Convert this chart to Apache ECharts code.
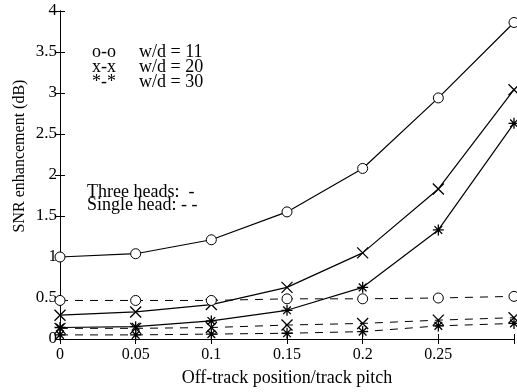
<!DOCTYPE html>
<html>
<head>
<meta charset="utf-8">
<script src="https://cdn.jsdelivr.net/npm/echarts@6/dist/echarts.min.js"></script>
<style>
  html, body { margin: 0; padding: 0; background: #fff; }
  #main { width: 517px; height: 392px; }
</style>
</head>
<body>
<div id="main"></div>
<script>
// 横轴: 偏道位置/道距
var offTrack = [0, 0.05, 0.1, 0.15, 0.2, 0.25, 0.3];
// 三磁头 (实线)
var three11 = [1.0, 1.04, 1.21, 1.55, 2.08, 2.94, 3.86];
var three20 = [0.29, 0.33, 0.42, 0.63, 1.05, 1.83, 3.04];
var three30 = [0.14, 0.15, 0.22, 0.35, 0.63, 1.33, 2.63];
// 单磁头 (虚线)
var single11 = [0.47, 0.47, 0.47, 0.49, 0.49, 0.50, 0.52];
var single20 = [0.13, 0.13, 0.14, 0.17, 0.19, 0.23, 0.26];
var single30 = [0.05, 0.05, 0.06, 0.07, 0.09, 0.16, 0.19];

var FONT = '"Liberation Serif", "DejaVu Serif", serif';
var xMark = 'path://M0,0L10,10M10,0L0,10';
var starMark = 'path://M5,0L5,10M0,5L10,5M1.5,1.5L8.5,8.5M8.5,1.5L1.5,8.5';

function pairs(ys) {
    return offTrack.map(function (x, i) { return [x, ys[i]]; });
}

function makeSeries(name, ys, symbol, size, dashed) {
    return {
        name: name,
        type: 'line',
        data: pairs(ys),
        symbol: symbol,
        symbolSize: size,
        showSymbol: true,
        lineStyle: { color: '#000', width: dashed ? 1 : 1.2, type: dashed ? [8, 7] : 'solid' },
        // 圆圈用白色填充 + 细黑边
        itemStyle: symbol === 'circle'
            ? { color: '#fff', borderColor: '#000', borderWidth: 1 }
            : { color: '#000', borderColor: '#000', borderWidth: 1.3 },
        emphasis: { disabled: true },
        animation: false
    };
}

var myChart = echarts.init(document.getElementById('main'));

var option = {
    backgroundColor: '#fff',
    animation: false,
    grid: { left: 60, right: 2, top: 11, bottom: 50 },
    xAxis: [
        {
            type: 'value', min: 0, max: 0.3, interval: 0.05,
            name: 'Off-track position/track pitch',
            nameLocation: 'middle', nameGap: 30,
            nameTextStyle: { fontFamily: FONT, fontSize: 18, color: '#000' },
            axisLine: { lineStyle: { color: '#000', width: 1 } },
            axisTick: { inside: true, length: 5, lineStyle: { color: '#000' } },
            axisLabel: {
                fontFamily: FONT, fontSize: 16, color: '#000', margin: 8,
                formatter: function (v) { return v > 0.29 ? '' : String(+v.toFixed(2)); }
            },
            splitLine: { show: false }
        },
        {
            type: 'value', min: 0, max: 0.3, interval: 0.05, position: 'top',
            axisLine: { lineStyle: { color: '#000', width: 1 } },
            axisTick: { inside: true, length: 5, lineStyle: { color: '#000' } },
            axisLabel: { show: false },
            splitLine: { show: false }
        }
    ],
    yAxis: [
        {
            type: 'value', min: 0, max: 4, interval: 0.5,
            axisLine: { show: true, lineStyle: { color: '#000', width: 1 } },
            axisTick: { show: true, inside: true, length: 5, lineStyle: { color: '#000' } },
            axisLabel: { fontFamily: FONT, fontSize: 17, color: '#000', margin: 3 },
            splitLine: { show: false }
        },
        {
            type: 'value', min: 0, max: 4, interval: 0.5, position: 'right',
            axisLine: { show: true, lineStyle: { color: '#000', width: 1 } },
            axisTick: { show: true, inside: true, length: 5, lineStyle: { color: '#000' } },
            axisLabel: { show: false },
            splitLine: { show: false }
        }
    ],
    graphic: [
        {
            type: 'text', x: 20, y: 156, rotation: Math.PI / 2,
            style: { text: 'SNR enhancement (dB)', font: '16px ' + FONT, fill: '#000',
                     align: 'center', verticalAlign: 'middle' }
        },
        { type: 'text', x: 92, y: 52, style: { text: 'o-o', font: '18px ' + FONT, fill: '#000', verticalAlign: 'middle' } },
        { type: 'text', x: 139, y: 52, style: { text: 'w/d = 11', font: '18px ' + FONT, fill: '#000', verticalAlign: 'middle' } },
        { type: 'text', x: 92, y: 67, style: { text: 'x-x', font: '18px ' + FONT, fill: '#000', verticalAlign: 'middle' } },
        { type: 'text', x: 139, y: 67, style: { text: 'w/d = 20', font: '18px ' + FONT, fill: '#000', verticalAlign: 'middle' } },
        { type: 'text', x: 92, y: 82, style: { text: '*-*', font: '18px ' + FONT, fill: '#000', verticalAlign: 'middle' } },
        { type: 'text', x: 139, y: 82, style: { text: 'w/d = 30', font: '18px ' + FONT, fill: '#000', verticalAlign: 'middle' } },
        { type: 'text', x: 87, y: 192, style: { text: 'Three heads:  -', font: '18px ' + FONT, fill: '#000', verticalAlign: 'middle' } },
        { type: 'text', x: 87, y: 205, style: { text: 'Single head: - -', font: '18px ' + FONT, fill: '#000', verticalAlign: 'middle' } }
    ],
    series: [
        makeSeries('three11', three11, 'circle', 10, false),
        makeSeries('three20', three20, xMark, 11, false),
        makeSeries('three30', three30, starMark, 11, false),
        makeSeries('single11', single11, 'circle', 10, true),
        makeSeries('single20', single20, xMark, 11, true),
        makeSeries('single30', single30, starMark, 11, true)
    ]
};

myChart.setOption(option);
</script>
</body>
</html>
